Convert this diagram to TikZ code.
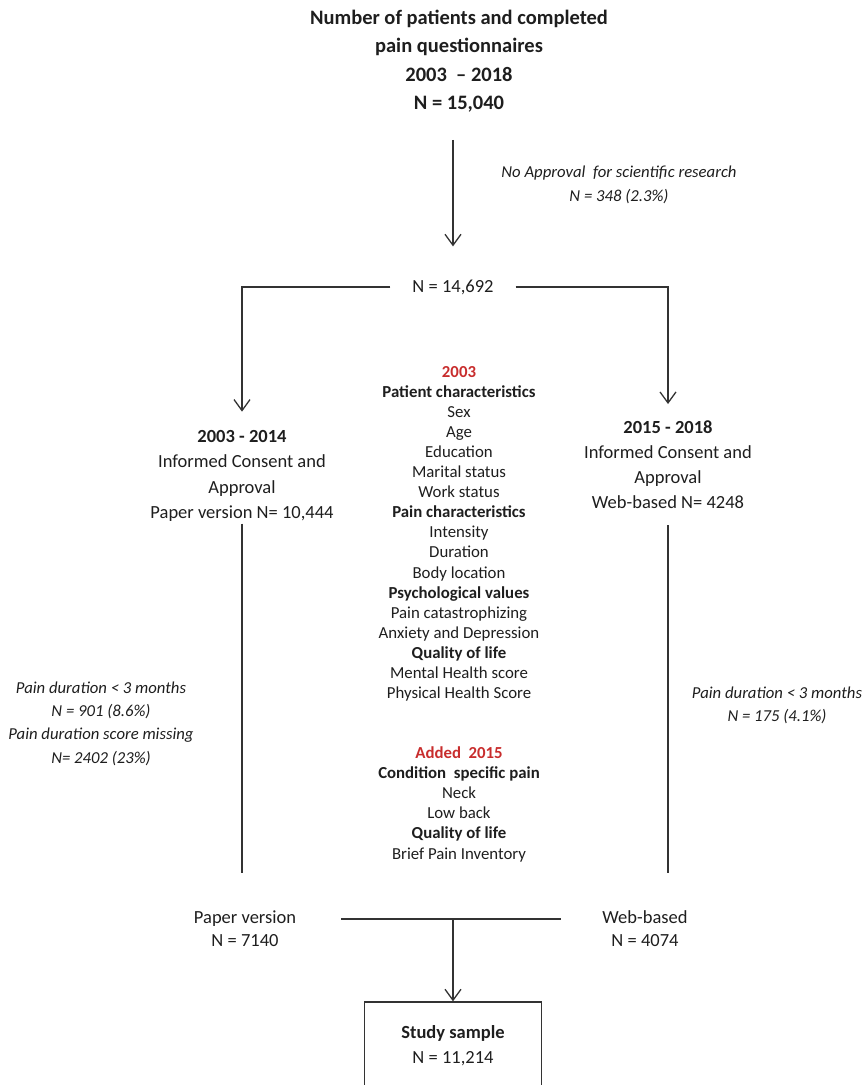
\documentclass[tikz,border=0pt]{standalone}
\usepackage{fontspec}
\setmainfont{Carlito}
\usetikzlibrary{arrows.meta}
\definecolor{ink}{HTML}{1E1E1E}
\definecolor{redtxt}{RGB}{200,45,45}
\definecolor{linec}{HTML}{333333}
\tikzset{
  txt/.style={inner sep=0pt, text=ink, align=center, anchor=base},
  titletxt/.style={txt, font=\fontsize{20.5}{28.6}\selectfont\bfseries},
  sidetxt/.style={txt, font=\fontsize{18.5}{25.5}\selectfont},
  midtxt/.style={txt, font=\fontsize{16.8}{20.1}\selectfont},
  notetxt/.style={txt, font=\fontsize{16.7}{23.3}\selectfont\itshape},
  conn/.style={draw=linec, line width=1.3pt},
  arr/.style={conn, -{Straight Barb[length=11pt,width=16pt]}},
}
\begin{document}
\begin{tikzpicture}[x=1pt,y=-1pt]
\useasboundingbox (0,0) rectangle (866,1085);
\clip (0,0) rectangle (866,1085);

% title (anchor = baseline of the last line)
\node[titletxt] (t) at (459,109.8) {Number of patients and completed\\pain questionnaires\\2003\hspace{0.45em}-- 2018\\N = 15,040};

% exclusion note
\node[notetxt, font=\fontsize{16.7}{24}\selectfont\itshape] (na) at (619,201.5) {No Approval\ \ for scientific research\\N = 348 (2.3\%)};

% N = 14,692
\node[txt, anchor=center, inner xsep=22pt, font=\fontsize{18.5}{22}\selectfont] (n2) at (453,287) {N = 14,692};

% side columns
\node[sidetxt] (lcol) at (242,518.5) {\textbf{2003 - 2014}\\Informed Consent and\\Approval\\Paper version N= 10,444};
\node[sidetxt, font=\fontsize{18.5}{25.3}\selectfont] (rcol) at (668,508.9) {\textbf{2015 - 2018}\\Informed Consent and\\Approval\\Web-based N= 4248};

% centre column
\node[midtxt] (cc) at (459,698.6) {\textcolor{redtxt}{\textbf{2003}}\\
\textbf{Patient characteristics}\\Sex\\Age\\Education\\Marital status\\Work status\\
\textbf{Pain characteristics}\\Intensity\\Duration\\Body location\\
\textbf{Psychological values}\\Pain catastrophizing\\Anxiety and Depression\\
\textbf{Quality of life}\\Mental Health score\\Physical Health Score};
\node[midtxt, font=\fontsize{16.8}{20.2}\selectfont] (cl) at (459,859) {\textcolor{redtxt}{\textbf{Added\ \ 2015}}\\
\textbf{Condition\ \ specific pain}\\Neck\\Low back\\\textbf{Quality of life}\\Brief Pain Inventory};

% side exclusion notes
\node[notetxt] (ll) at (101,763.1) {Pain duration < 3 months\\N = 901 (8.6\%)\\Pain duration score missing\\N= 2402 (23\%)};
\node[notetxt, font=\fontsize{16.7}{23}\selectfont\itshape] (rl) at (777,721.5) {Pain duration < 3 months\\N = 175 (4.1\%)};

% bottom groups
\node[sidetxt, font=\fontsize{18.5}{23}\selectfont] (pv) at (245,946.5) {Paper version\\N = 7140};
\node[sidetxt, font=\fontsize{18.5}{23}\selectfont] (wb) at (645,946.5) {Web-based\\N = 4074};

% study sample box
\node[txt, draw=linec, line width=1.3pt, font=\fontsize{18.5}{25}\selectfont,
      text height=39pt, text depth=60pt, inner ysep=22pt, minimum width=177pt]
      (ss) at (453,1063) {\textbf{Study sample}\\N = 11,214};

% connectors
\draw[arr, shorten <=27pt, shorten >=33pt] (t.south -| n2.north) -- (n2.north);
\draw[arr, shorten >=18pt] (n2.west) -| (lcol.north);
\draw[arr, shorten >=16pt] (n2.east) -| (rcol.north);
\draw[conn, shorten <=2pt, shorten >=38pt] (lcol.south) -- (lcol.south |- pv.north);
\draw[conn, shorten <=16pt, shorten >=37pt] (rcol.south) -- (rcol.south |- wb.north);
\coordinate (j) at (453,919);
\draw[conn, shorten <=45pt, shorten >=41pt] (j -| pv.east) -- (j -| wb.west);
\draw[arr] (j) -- (ss.north);
\end{tikzpicture}
\end{document}
